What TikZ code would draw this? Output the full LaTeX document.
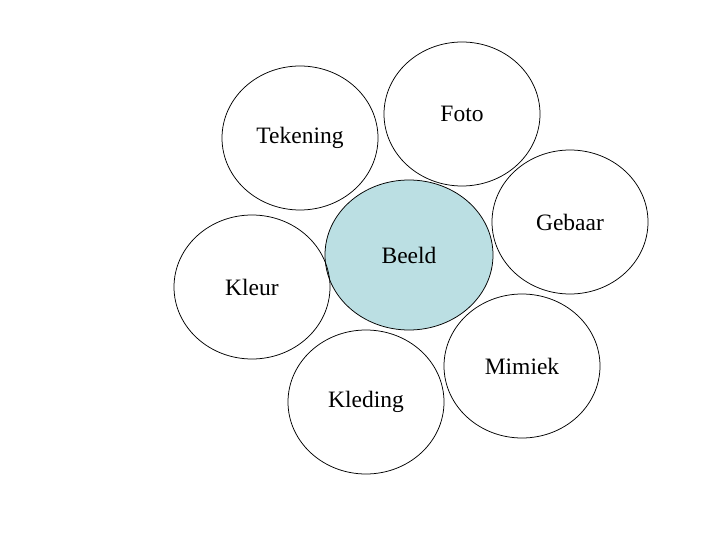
\documentclass[tikz,border=0pt]{standalone}
\usepackage{fontspec}
\setmainfont{Liberation Serif}
\usetikzlibrary{shapes.geometric}
\definecolor{beeldblauw}{HTML}{BBDFE3}

\begin{document}
\begin{tikzpicture}[x=1pt, y=-1pt, line width=0.75pt,
	bubble/.style={draw, ellipse, inner sep=2pt, minimum width=156pt, minimum height=144pt,
		font=\fontsize{23.5}{28}\selectfont}]
	% ================= 画布 =================
	\useasboundingbox (0,0) rectangle (720,540);
	
	% ================= 中心：Beeld =================
	\node[bubble, fill=beeldblauw, minimum width=168pt, minimum height=150pt] (beeld) at (409,255) {Beeld};
	
	% ================= 周围的椭圆 =================
	\node[bubble] (tekening) at (300,138) {Tekening};
	\node[bubble] (foto) at (462,114) {Foto};
	\node[bubble] (gebaar) at (570,222) {Gebaar};
	\node[bubble] (kleur) at (252,287) {Kleur};
	\node[bubble] (mimiek) at (522,366) {Mimiek};
	\node[bubble] (kleding) at (366,402) {Kleding};
\end{tikzpicture}
\end{document}
